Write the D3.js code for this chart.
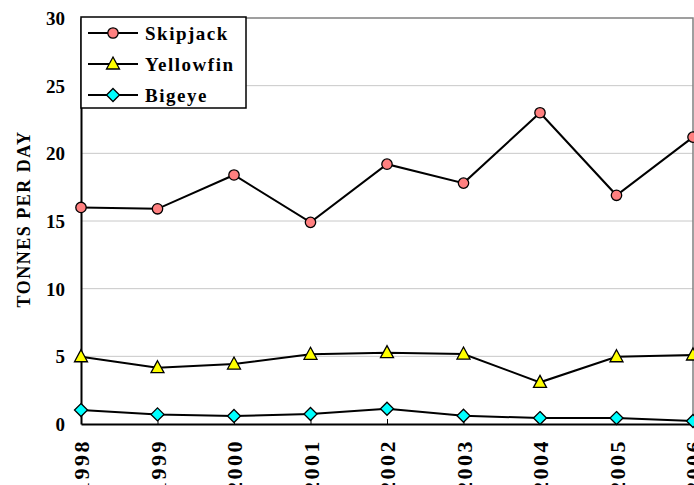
<!DOCTYPE html>
<html>
<head>
<meta charset="utf-8">
<script src="https://cdn.jsdelivr.net/npm/d3@7"></script>
<style>
  html, body { margin: 0; padding: 0; background: #fff; }
  svg { display: block; }
</style>
</head>
<body>
<script>
const years = ["1998","1999","2000","2001","2002","2003","2004","2005","2006"];
const skipjack = [16.0, 15.9, 18.4, 14.9, 19.2, 17.8, 23.0, 16.9, 21.2];
const yellowfin = [4.97, 4.16, 4.43, 5.15, 5.27, 5.17, 3.08, 4.97, 5.1];
const bigeye = [1.03, 0.71, 0.59, 0.74, 1.13, 0.61, 0.44, 0.44, 0.22];
const yTicks = [0, 5, 10, 15, 20, 25, 30];
const seriesNames = ["Skipjack", "Yellowfin", "Bigeye"];
const seriesColors = ["#FF8080", "#FFFF00", "#00FFFF"];
const seriesShapes = ["circle", "triangle", "diamond"];
const yTitle = "TONNES PER DAY";

const FONT = "'Times New Roman', Times, 'Liberation Serif', serif";
const W = 694, H = 485;
const m = { left: 81, right: 693, top: 18, bottom: 424 };

const svg = d3.select("body").append("svg").attr("width", W).attr("height", H);

const x = d3.scalePoint().domain(years).range([m.left, m.right]);
const y = d3.scaleLinear().domain([0, 30]).range([m.bottom, m.top]);

function styleText(sel, size, spacing) {
  sel.attr("font-family", FONT).attr("font-weight", "bold")
    .attr("font-size", size).attr("letter-spacing", spacing)
    .attr("fill", "#000");
}

// gridlines
svg.append("g").selectAll("line").data(yTicks.filter(d => d > 0 && d < 30)).join("line")
  .attr("x1", m.left).attr("x2", m.right)
  .attr("y1", d => y(d)).attr("y2", d => y(d))
  .attr("stroke", "#c8c8c8").attr("stroke-width", 1);

// top and right border
svg.append("path")
  .attr("d", `M${m.left},${y(30)}H${m.right}V${m.bottom}`)
  .attr("fill", "none").attr("stroke", "#808080").attr("stroke-width", 1.5);

// y axis
const yAxis = d3.axisLeft(y).tickValues(yTicks).tickSize(0).tickPadding(16).tickFormat(d3.format("d"));
const gy = svg.append("g").attr("transform", `translate(${m.left},0)`).call(yAxis);
gy.attr("font-family", FONT).attr("font-size", 19);
gy.select(".domain").attr("stroke", "#000").attr("stroke-width", 2);
gy.selectAll("text").call(styleText, 19, 0).attr("dy", "0.35em");

// x axis
const xAxis = d3.axisBottom(x).tickSize(-5).tickSizeOuter(0).tickPadding(0);
const gx = svg.append("g").attr("transform", `translate(0,${m.bottom})`).call(xAxis);
gx.attr("font-family", FONT).attr("font-size", 22);
gx.select(".domain").attr("stroke", "#000").attr("stroke-width", 2);
gx.selectAll(".tick line").attr("stroke", "#000").attr("stroke-width", 1);
gx.selectAll("text")
  .call(styleText, 22, 2.5)
  .attr("text-anchor", "end")
  .attr("transform", "translate(0,15) rotate(-90)")
  .attr("x", 0).attr("y", 0).attr("dy", "0.35em");

// y title
svg.append("text")
  .attr("transform", `translate(24,219) rotate(-90)`)
  .attr("text-anchor", "middle").attr("dy", "0.35em")
  .call(styleText, 18, 1.5)
  .text(yTitle);

function marker(sel, shape, color) {
  if (shape === "circle") {
    sel.append("circle").attr("r", 5.2).attr("fill", color).attr("stroke", "#000").attr("stroke-width", 1.3);
  } else if (shape === "triangle") {
    sel.append("path").attr("d", "M0,-7L6.5,5L-6.5,5Z").attr("fill", color).attr("stroke", "#000").attr("stroke-width", 1.3);
  } else {
    sel.append("path").attr("d", "M0,-6.5L6.5,0L0,6.5L-6.5,0Z").attr("fill", color).attr("stroke", "#000").attr("stroke-width", 1.3);
  }
}

const allSeries = [skipjack, yellowfin, bigeye];
const line = d3.line().x((d, i) => x(years[i])).y(d => y(d));

allSeries.forEach((vals, si) => {
  svg.append("path").datum(vals).attr("d", line)
    .attr("fill", "none").attr("stroke", "#000").attr("stroke-width", 2);
  svg.append("g").selectAll("g").data(vals).join("g")
    .attr("transform", (d, i) => `translate(${x(years[i])},${y(d)})`)
    .each(function() { marker(d3.select(this), seriesShapes[si], seriesColors[si]); });
});

// legend
const lg = svg.append("g");
lg.append("rect").attr("x", 81).attr("y", 17).attr("width", 165).attr("height", 91)
  .attr("fill", "#fff").attr("stroke", "#000").attr("stroke-width", 1.5);
const rowsY = [33, 64, 95];
seriesNames.forEach((name, i) => {
  const g = lg.append("g").attr("transform", `translate(0,${rowsY[i]})`);
  g.append("line").attr("x1", 88).attr("x2", 138).attr("y1", 0).attr("y2", 0)
    .attr("stroke", "#000").attr("stroke-width", 2);
  const mg = g.append("g").attr("transform", "translate(113,0)");
  marker(mg, seriesShapes[i], seriesColors[i]);
  g.append("text").attr("x", 145).attr("y", 0).attr("dy", "0.35em")
    .call(styleText, 19, 1.5).text(name);
});
</script>
</body>
</html>
